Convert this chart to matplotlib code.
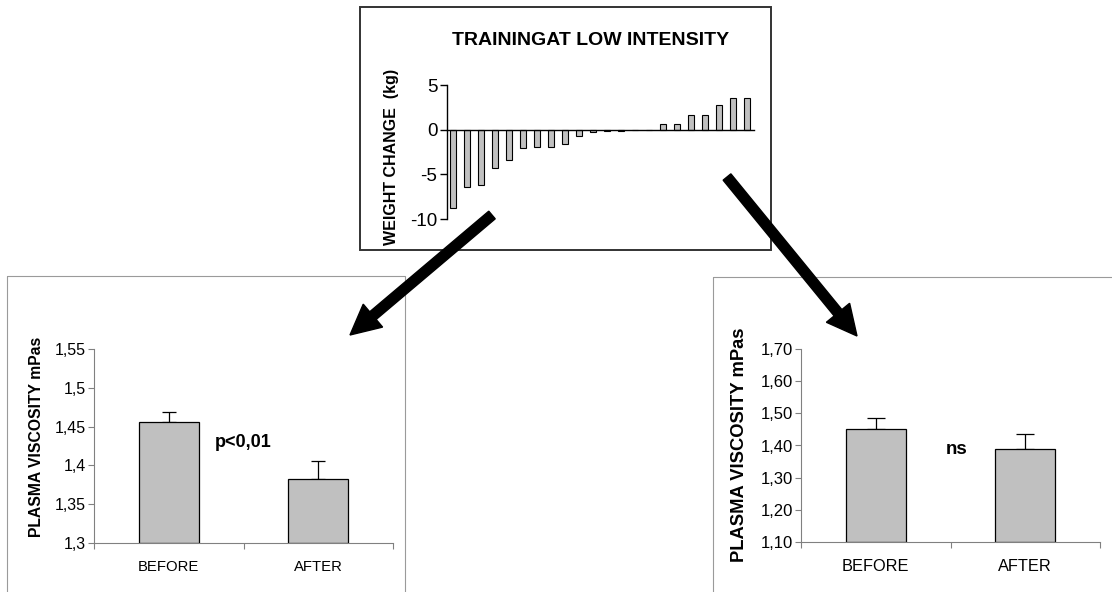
import numpy as np
import matplotlib
matplotlib.use("Agg")
import matplotlib.pyplot as plt
from matplotlib.patches import Rectangle, FancyArrow
from matplotlib.ticker import FuncFormatter, FixedLocator

plt.rcParams['font.family'] = ['Liberation Sans', 'DejaVu Sans']
plt.rcParams['axes.unicode_minus'] = False

# data
weight_change = [-8.8, -6.4, -6.2, -4.3, -3.4, -2.1, -1.9, -1.9, -1.6, -0.7, -0.3, -0.1, -0.1,
                 0.0, 0.0, 0.6, 0.6, 1.6, 1.6, 2.8, 3.5, 3.6]
groups = ['BEFORE', 'AFTER']
visc_lost = [1.456, 1.382]      # subjects who lost weight
visc_lost_err = [0.013, 0.024]
visc_gain = [1.451, 1.389]      # subjects who gained weight
visc_gain_err = [0.034, 0.047]

W, H = 1112, 592
fig = plt.figure(figsize=(W / 100, H / 100), dpi=100)
fig.patch.set_facecolor('white')


def px_axes(x0, y_top, x1, y_bot):
    return [x0 / W, 1 - y_bot / H, (x1 - x0) / W, (y_bot - y_top) / H]


BAR = '#c0c0c0'

# ---- top chart: weight change
ax = fig.add_axes(px_axes(447, 85, 754, 219))
xs = np.arange(len(weight_change))
ax.bar(xs, weight_change, width=0.42, color=BAR, edgecolor='black', linewidth=0.8, zorder=2)
ax.set_xlim(-0.45, len(weight_change) - 0.5)
ax.set_ylim(-10, 5)
ax.set_yticks([-10, -5, 0, 5])
ax.spines['top'].set_visible(False)
ax.spines['right'].set_visible(False)
ax.spines['bottom'].set_position(('data', 0))
ax.spines['bottom'].set_zorder(3)
for s in ('left', 'bottom'):
    ax.spines[s].set_linewidth(1.0)
ax.set_xticks([])
ax.tick_params(axis='y', direction='out', length=5, width=1, pad=2, labelsize=13.5)
ax.patch.set_alpha(0)
fig.text(591 / W, 1 - 45 / H, 'TRAININGAT LOW INTENSITY', ha='center', va='baseline',
         fontsize=14, fontweight='bold')
fig.text(392 / W, 1 - 157 / H, 'WEIGHT CHANGE  (kg)', ha='center', va='center',
         rotation=90, fontsize=11.5, fontweight='bold')


def visc_panel(rect, means, errs, ylim, step, fmt, ylab_x, ylab_y, ylab_size, tick_size,
               cat_size, note, note_xy, note_size, capsize):
    a = fig.add_axes(px_axes(*rect))
    x = np.arange(len(groups))
    a.bar(x, np.array(means) - ylim[0], bottom=ylim[0], width=0.4, color=BAR,
          edgecolor='black', linewidth=0.9, zorder=2)
    a.errorbar(x, means, yerr=[[0] * len(errs), errs], fmt='none', ecolor='black',
               elinewidth=0.9, capsize=capsize, capthick=0.9, zorder=1)
    a.set_xlim(-0.5, len(groups) - 0.5)
    a.set_ylim(*ylim)
    a.set_yticks(np.arange(ylim[0], ylim[1] + step / 2, step))
    a.yaxis.set_major_formatter(FuncFormatter(fmt))
    a.set_xticks(x)
    a.set_xticklabels(groups)
    a.xaxis.set_minor_locator(FixedLocator(np.arange(-0.5, len(groups), 1.0)))
    a.tick_params(axis='x', which='major', length=0, pad=12, labelsize=cat_size)
    a.tick_params(axis='x', which='minor', direction='out', length=4, width=0.8, color='#808080')
    a.tick_params(axis='y', direction='out', length=4, width=0.8, color='#808080',
                  pad=2, labelsize=tick_size)
    a.spines['top'].set_visible(False)
    a.spines['right'].set_visible(False)
    for s in ('left', 'bottom'):
        a.spines[s].set_color('#808080')
        a.spines[s].set_linewidth(0.8)
    a.text(note_xy[0], note_xy[1], note, ha='center', va='baseline', fontsize=note_size,
           fontweight='bold')
    fig.text(ylab_x / W, 1 - ylab_y / H, 'PLASMA VISCOSITY mPas', ha='center', va='center',
             rotation=90, fontsize=ylab_size, fontweight='bold')
    return a


visc_panel((94, 349, 393, 543), visc_lost, visc_lost_err, (1.3, 1.55), 0.05,
           lambda v, p: f'{v:g}'.replace('.', ','), 37, 437, 11.3, 11.5, 10.7,
           'p<0,01', (0.5, 1.424), 13, 5)
visc_panel((801, 349, 1100, 542), visc_gain, visc_gain_err, (1.10, 1.70), 0.10,
           lambda v, p: f'{v:.2f}'.replace('.', ','), 739, 445, 13.2, 12, 11.8,
           'ns', (0.54, 1.374), 13.5, 6.5)

# ---- overlay: frames and arrows
ov = fig.add_axes([0, 0, 1, 1], zorder=10)
ov.set_xlim(0, W)
ov.set_ylim(H, 0)
ov.axis('off')
ov.patch.set_alpha(0)
ov.add_patch(Rectangle((360, 7), 411, 243, fill=False, edgecolor='#333333', linewidth=1.4))
ov.add_patch(Rectangle((7, 276), 398, 330, fill=False, edgecolor='#9a9a9a', linewidth=0.8))
ov.add_patch(Rectangle((713, 277), 420, 330, fill=False, edgecolor='#9a9a9a', linewidth=0.8))
for (x0, y0), (x1, y1) in [((492, 215), (350, 335)), ((727, 177), (857, 336))]:
    ov.add_patch(FancyArrow(x0, y0, x1 - x0, y1 - y0, width=10, head_width=30,
                            head_length=30, length_includes_head=True,
                            color='black', zorder=5))

fig.savefig('out.png', dpi=100)
